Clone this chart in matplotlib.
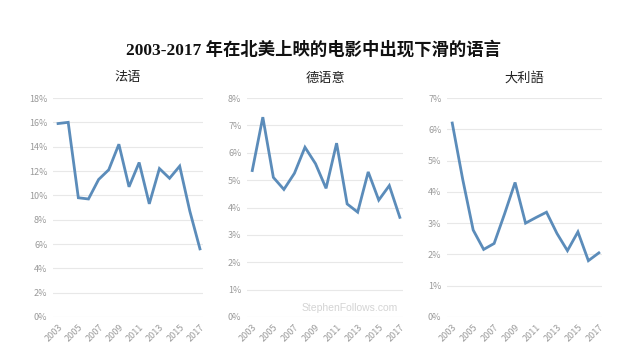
import matplotlib.pyplot as plt
from matplotlib.ticker import FuncFormatter

plt.rcParams['font.family'] = ['Noto Sans CJK SC', 'DejaVu Sans']

# 数据
years = list(range(2003, 2018))
french = [15.9, 16.0, 9.8, 9.7, 11.3, 12.1, 14.2, 10.7, 12.7, 9.3, 12.2, 11.4, 12.4, 8.7, 5.6]
german = [5.35, 7.3, 5.1, 4.66, 5.25, 6.2, 5.6, 4.7, 6.35, 4.13, 3.83, 5.3, 4.27, 4.8, 3.64]
italian = [6.2, 4.4, 2.78, 2.16, 2.35, 3.3, 4.3, 3.0, 3.18, 3.35, 2.67, 2.12, 2.72, 1.8, 2.05]

titles = ['法语', '德语意', '大利語']
series = [french, german, italian]
y_max = [18, 8, 7]
y_step = [2, 1, 1]
xtick_years = list(range(2003, 2018, 2))

line_color = '#5b8cba'
grid_color = '#e8e8e8'
tick_color = '#9a9a9a'

fig = plt.figure(figsize=(6.2, 3.62), dpi=100)
fig.patch.set_facecolor('white')

# 三个子图的位置 (像素换算)
lefts = [53, 247, 447]
rights = [203, 403, 602]
W, H = 620, 362
bottom = (H - 317) / H
height = (317 - 98) / H

for i in range(3):
    ax = fig.add_axes([lefts[i] / W, bottom, (rights[i] - lefts[i]) / W, height])
    ax.plot(years, series[i], color=line_color, lw=2, solid_joinstyle='miter')
    ax.set_xlim(2002.5, 2017.3)
    ax.set_ylim(0, y_max[i])
    ax.set_yticks(range(0, y_max[i] + 1, y_step[i]))
    ax.yaxis.set_major_formatter(FuncFormatter(lambda v, p: f'{int(v)}%'))
    ax.set_xticks(xtick_years)
    ax.set_xticklabels([str(y) for y in xtick_years], rotation=45, ha='right',
                       rotation_mode='anchor')
    ax.tick_params(axis='both', length=0, labelsize=6.5, colors=tick_color, pad=4)
    ax.grid(axis='y', color=grid_color, lw=0.8)
    ax.set_axisbelow(True)
    for s in ax.spines.values():
        s.set_visible(False)
    ax.set_title(titles[i], fontsize=9.5, pad=12, color='#222222')

fig.text(350 / W, 1 - 308 / H, 'StephenFollows.com', fontsize=7.5, color='#d4d4d4',
         ha='center', va='center', family=['Liberation Sans', 'DejaVu Sans'])

fig.text(313 / W, 1 - 50 / H, '2003-2017 年在北美上映的电影中出现下滑的语言',
         fontsize=12.5, fontweight='bold', ha='center', va='center', color='#111111',
         family=['Liberation Serif', 'Noto Sans CJK SC'])

fig.savefig('out.png', dpi=100)
